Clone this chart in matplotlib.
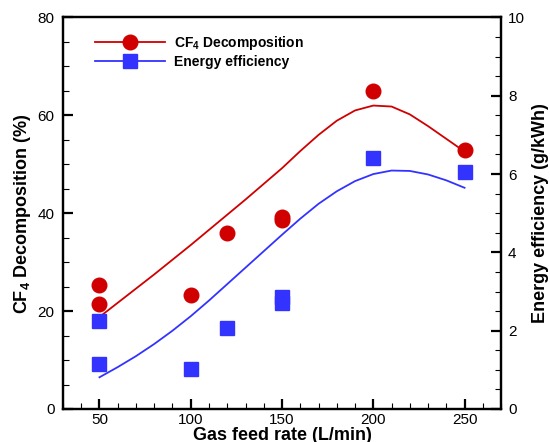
import numpy as np
import matplotlib
matplotlib.use("Agg")
from matplotlib import pyplot as plt
from matplotlib.ticker import MultipleLocator

plt.rcParams["font.family"] = ["Liberation Sans", "DejaVu Sans"]
plt.rcParams["mathtext.fontset"] = "custom"
plt.rcParams["mathtext.rm"] = "Liberation Sans:bold"
plt.rcParams["mathtext.bf"] = "Liberation Sans:bold"

RED = "#D00000"
BLUE = "#3333FF"

# measured points
cf4_x = [50, 50, 100, 120, 150, 150, 200, 250]
cf4_y = [25.3, 21.5, 23.2, 35.9, 39.3, 38.7, 64.9, 53.0]
ee_x = [50, 50, 100, 120, 150, 150, 200, 250]
ee_y = [2.25, 1.15, 1.02, 2.07, 2.85, 2.70, 6.42, 6.06]

# trend curves
fit_x = [50, 60, 70, 80, 90, 100, 110, 120, 130, 140, 150,
         160, 170, 180, 190, 200, 210, 220, 230, 240, 250]
cf4_fit = [18.8, 21.7, 24.6, 27.5, 30.5, 33.5, 36.6, 39.7, 42.8, 46.0, 49.2,
           52.7, 56.0, 58.9, 61.0, 62.0, 61.8, 60.2, 57.8, 55.2, 52.6]
ee_fit = [0.81, 1.07, 1.35, 1.66, 2.00, 2.37, 2.77, 3.19, 3.61, 4.03, 4.45,
          4.86, 5.24, 5.56, 5.82, 6.00, 6.09, 6.08, 5.99, 5.84, 5.65]

fig = plt.figure(figsize=(5.5, 4.42), dpi=100)
ax = fig.add_axes([0.1145, 0.0747, 0.7965, 0.8858])
ax2 = ax.twinx()

ax.plot(fit_x, cf4_fit, color=RED, lw=1.3, zorder=2)
ax.plot(cf4_x, cf4_y, "o", color=RED, ms=10.5, mec=RED, zorder=3)
ax2.plot(fit_x, ee_fit, color=BLUE, lw=1.3, zorder=2)
ax2.plot(ee_x, ee_y, "s", color=BLUE, ms=10.5, mec=BLUE, zorder=3)

ax.set_xlim(30, 270)
ax.set_ylim(0, 80)
ax2.set_ylim(0, 10)
ax.xaxis.set_major_locator(MultipleLocator(50))
ax.xaxis.set_minor_locator(MultipleLocator(10))
ax.yaxis.set_major_locator(MultipleLocator(20))
ax.yaxis.set_minor_locator(MultipleLocator(5))
ax2.yaxis.set_major_locator(MultipleLocator(2))
ax2.yaxis.set_minor_locator(MultipleLocator(0.5))

for a in (ax, ax2):
    for s in a.spines.values():
        s.set_linewidth(1.6)
ax.tick_params(which="both", direction="in", top=False, right=False, labelsize=11)
ax.tick_params(axis="y", which="major", length=7, width=1.6, pad=6)
ax.tick_params(axis="y", which="minor", length=4, width=0.8)
ax.tick_params(axis="x", which="major", length=7, width=1.6, pad=3)
ax.tick_params(axis="x", which="minor", length=4, width=0.8)
ax2.tick_params(which="both", direction="in", labelsize=11)
ax2.tick_params(which="major", length=7, width=1.6, pad=5)
ax2.tick_params(which="minor", length=4, width=0.8)

ax.set_xlabel("Gas feed rate (L/min)", fontsize=13, fontweight="bold", labelpad=0)
ax.set_ylabel(r"CF$_4$ Decomposition (%)", fontsize=13, fontweight="bold", labelpad=3)
ax2.set_ylabel("Energy efficiency (g/kWh)", fontsize=13, fontweight="bold", labelpad=5)

h1, = ax.plot([], [], "-o", color=RED, lw=1.3, ms=10.5)
h2, = ax.plot([], [], "-s", color=BLUE, lw=1.3, ms=10.5)
leg = ax.legend([h1, h2], [r"CF$_4$ Decomposition", "Energy efficiency"],
                loc="upper left", bbox_to_anchor=(0.045, 0.99), frameon=False,
                handlelength=5.0, handletextpad=0.7, labelspacing=0.25,
                prop={"weight": "bold", "size": 10})

fig.savefig("out.png", dpi=100)
